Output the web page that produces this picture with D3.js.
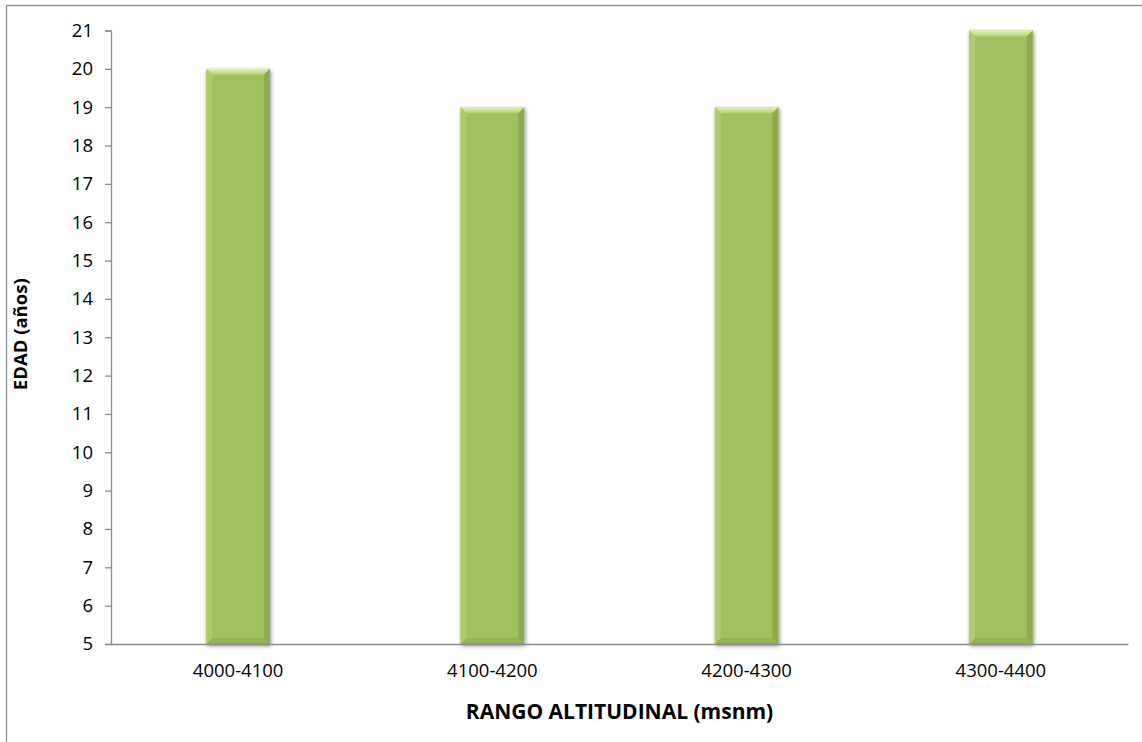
<!DOCTYPE html>
<html>
<head>
<meta charset="utf-8">
<script src="https://cdn.jsdelivr.net/npm/d3@7"></script>
<style>
  html, body { margin: 0; padding: 0; background: #fff; }
  svg { display: block; }
  text { font-family: "Open Sans", "Noto Sans", sans-serif; fill: #000; }
</style>
</head>
<body>
<svg id="chart" width="1142" height="742"></svg>
<script>
// Edad promedio por rango altitudinal
const categories = ["4000-4100", "4100-4200", "4200-4300", "4300-4400"];
const edades = [20, 19, 19, 21];
const yTicks = [5, 6, 7, 8, 9, 10, 11, 12, 13, 14, 15, 16, 17, 18, 19, 20, 21];
const xTitle = "RANGO ALTITUDINAL (msnm)";
const yTitle = "EDAD (años)";

const W = 1142, H = 742;
const plot = { left: 111, right: 1128, top: 30.5, bottom: 644 };

const svg = d3.select("#chart");

// chart area frame (only top and left edges fall inside the view)
svg.append("rect")
  .attr("x", 6.5).attr("y", 5.5)
  .attr("width", W + 20).attr("height", H + 20)
  .attr("fill", "#fff")
  .attr("stroke", "#8c8c8c").attr("stroke-width", 1.3);

const x = d3.scaleBand().domain(categories).range([plot.left, plot.right]).paddingInner(0.75).paddingOuter(0.375);
const y = d3.scaleLinear().domain([5, 21]).range([plot.bottom, plot.top]);

const defs = svg.append("defs");
const shadow = defs.append("filter").attr("id", "barShadow")
  .attr("x", "-20%").attr("y", "-5%").attr("width", "140%").attr("height", "110%");
shadow.append("feGaussianBlur").attr("in", "SourceAlpha").attr("stdDeviation", 2.2).attr("result", "blur");
shadow.append("feOffset").attr("in", "blur").attr("dx", 1).attr("dy", 1.5).attr("result", "off");
shadow.append("feComponentTransfer").attr("in", "off").attr("result", "soft")
  .append("feFuncA").attr("type", "linear").attr("slope", 0.45);
const merge = shadow.append("feMerge");
merge.append("feMergeNode").attr("in", "soft");
merge.append("feMergeNode").attr("in", "SourceGraphic");

const topGrad = defs.append("linearGradient").attr("id", "topBevel").attr("x1", 0).attr("y1", 0).attr("x2", 0).attr("y2", 1);
topGrad.append("stop").attr("offset", "0%").attr("stop-color", "#e2f2b8");
topGrad.append("stop").attr("offset", "100%").attr("stop-color", "#b6d276");

// y axis
const yAxis = d3.axisLeft(y).tickValues(yTicks).tickSize(6).tickPadding(12).tickFormat(d3.format("d"));
const gy = svg.append("g").attr("transform", `translate(${plot.left},0)`).call(yAxis);
gy.select(".domain").attr("stroke", "#8c8c8c").attr("stroke-width", 1.3);
gy.selectAll(".tick line").attr("stroke", "#8c8c8c").attr("stroke-width", 1.3);
gy.selectAll(".tick text").attr("font-size", 18.5).attr("font-family", "'Open Sans', sans-serif").attr("fill", "#000");

// bars with bevelled edges
const b = 6;
const bars = svg.append("g").selectAll("g.bar").data(categories.map((c, i) => ({ c, v: edades[i] })))
  .join("g").attr("class", "bar").attr("filter", "url(#barShadow)");

bars.each(function(d) {
  const g = d3.select(this);
  const x0 = x(d.c), x1 = x(d.c) + x.bandwidth();
  const y0 = y(d.v), y1 = y(5);
  g.append("rect").attr("x", x0).attr("y", y0).attr("width", x1 - x0).attr("height", y1 - y0).attr("fill", "#a1c160");
  // top
  g.append("path").attr("d", `M${x0},${y0}L${x1},${y0}L${x1 - b},${y0 + b}L${x0 + b},${y0 + b}Z`).attr("fill", "url(#topBevel)");
  // left
  g.append("path").attr("d", `M${x0},${y0}L${x0 + b},${y0 + b}L${x0 + b},${y1 - b}L${x0},${y1}Z`).attr("fill", "#aecb6e");
  // right
  g.append("path").attr("d", `M${x1},${y0}L${x1},${y1}L${x1 - b},${y1 - b}L${x1 - b},${y0 + b}Z`).attr("fill", "#8dab4e");
  // bottom
  g.append("path").attr("d", `M${x0},${y1}L${x1},${y1}L${x1 - b},${y1 - b}L${x0 + b},${y1 - b}Z`).attr("fill", "#93b254");
});

// x axis
const xAxis = d3.axisBottom(x).tickSize(0).tickPadding(20);
const gx = svg.append("g").attr("transform", `translate(0,${plot.bottom})`).call(xAxis);
gx.select(".domain").attr("stroke", "#8c8c8c").attr("stroke-width", 1.3);
gx.selectAll(".tick text").attr("font-size", 18.5).attr("font-family", "'Open Sans', sans-serif").attr("fill", "#000");

// axis titles
svg.append("text")
  .attr("x", (plot.left + plot.right) / 2).attr("y", 719)
  .attr("text-anchor", "middle")
  .attr("font-size", 21).attr("font-weight", "bold")
  .text(xTitle);

svg.append("text")
  .attr("transform", `translate(27,${(plot.top + plot.bottom) / 2 - 3}) rotate(-90)`)
  .attr("text-anchor", "middle")
  .attr("font-size", 18.5).attr("font-weight", "bold")
  .text(yTitle);
</script>
</body>
</html>
